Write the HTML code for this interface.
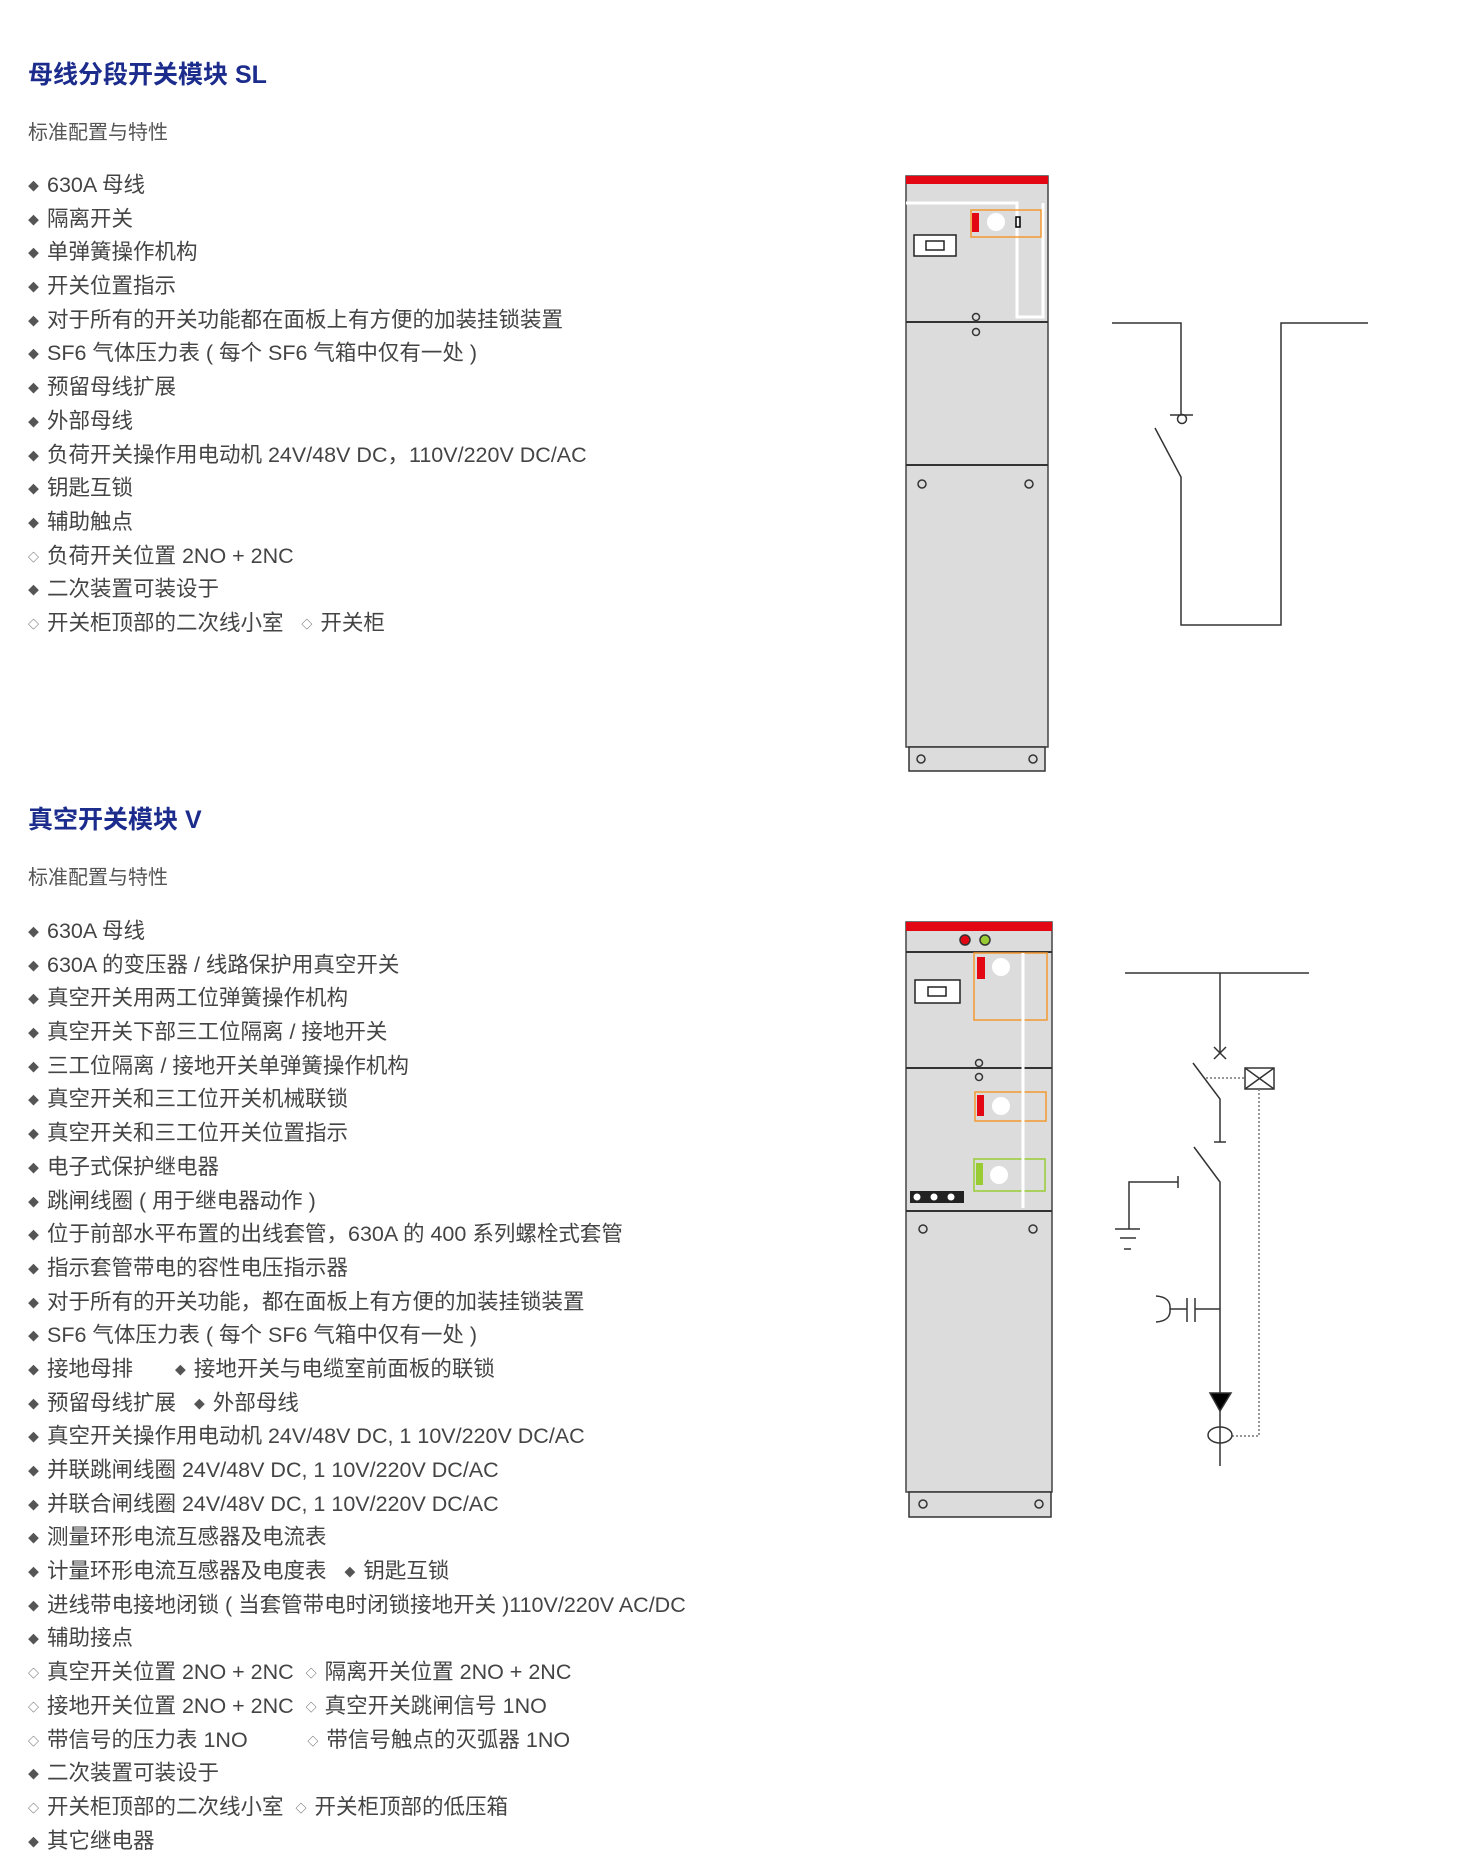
<!DOCTYPE html><html><head><meta charset="utf-8"><style>
body{margin:0;width:1464px;height:1834px;background:#fff;position:relative;font-family:"Liberation Sans","Noto Sans CJK SC",sans-serif;overflow:hidden}
.t{position:absolute;left:28px;font-size:25px;font-weight:bold;color:#1c2c8c}
.s{position:absolute;left:28px;font-size:20px;color:#555}
.l{position:absolute;left:28px;font-size:21.5px;color:#444;line-height:33.7px;margin:0;padding:0;list-style:none}
.l li{height:33.7px;white-space:pre}
.l b{display:inline-block;width:19px;font-size:11px;font-weight:normal;vertical-align:2px;color:#555}
svg{position:absolute;left:0;top:0}
</style></head><body>
<div class="t" style="top:55px">母线分段开关模块 SL</div>
<div class="s" style="top:116px">标准配置与特性</div>
<ul class="l" style="top:169px"><li><b>◆</b>630A 母线</li><li><b>◆</b>隔离开关</li><li><b>◆</b>单弹簧操作机构</li><li><b>◆</b>开关位置指示</li><li><b>◆</b>对于所有的开关功能都在面板上有方便的加装挂锁装置</li><li><b>◆</b>SF6 气体压力表 ( 每个 SF6 气箱中仅有一处 )</li><li><b>◆</b>预留母线扩展</li><li><b>◆</b>外部母线</li><li><b>◆</b>负荷开关操作用电动机 24V/48V DC，110V/220V DC/AC</li><li><b>◆</b>钥匙互锁</li><li><b>◆</b>辅助触点</li><li><b>◇</b>负荷开关位置 2NO + 2NC</li><li><b>◆</b>二次装置可装设于</li><li><b>◇</b>开关柜顶部的二次线小室   <b>◇</b>开关柜</li></ul>
<div class="t" style="top:800px">真空开关模块 V</div>
<div class="s" style="top:861px">标准配置与特性</div>
<ul class="l" style="top:915px"><li><b>◆</b>630A 母线</li><li><b>◆</b>630A 的变压器 / 线路保护用真空开关</li><li><b>◆</b>真空开关用两工位弹簧操作机构</li><li><b>◆</b>真空开关下部三工位隔离 / 接地开关</li><li><b>◆</b>三工位隔离 / 接地开关单弹簧操作机构</li><li><b>◆</b>真空开关和三工位开关机械联锁</li><li><b>◆</b>真空开关和三工位开关位置指示</li><li><b>◆</b>电子式保护继电器</li><li><b>◆</b>跳闸线圈 ( 用于继电器动作 )</li><li><b>◆</b>位于前部水平布置的出线套管，630A 的 400 系列螺栓式套管</li><li><b>◆</b>指示套管带电的容性电压指示器</li><li><b>◆</b>对于所有的开关功能，都在面板上有方便的加装挂锁装置</li><li><b>◆</b>SF6 气体压力表 ( 每个 SF6 气箱中仅有一处 )</li><li><b>◆</b>接地母排       <b>◆</b>接地开关与电缆室前面板的联锁</li><li><b>◆</b>预留母线扩展   <b>◆</b>外部母线</li><li><b>◆</b>真空开关操作用电动机 24V/48V DC, 1 10V/220V DC/AC</li><li><b>◆</b>并联跳闸线圈 24V/48V DC, 1 10V/220V DC/AC</li><li><b>◆</b>并联合闸线圈 24V/48V DC, 1 10V/220V DC/AC</li><li><b>◆</b>测量环形电流互感器及电流表</li><li><b>◆</b>计量环形电流互感器及电度表   <b>◆</b>钥匙互锁</li><li><b>◆</b>进线带电接地闭锁 ( 当套管带电时闭锁接地开关 )110V/220V AC/DC</li><li><b>◆</b>辅助接点</li><li><b>◇</b>真空开关位置 2NO + 2NC  <b>◇</b>隔离开关位置 2NO + 2NC</li><li><b>◇</b>接地开关位置 2NO + 2NC  <b>◇</b>真空开关跳闸信号 1NO</li><li><b>◇</b>带信号的压力表 1NO          <b>◇</b>带信号触点的灭弧器 1NO</li><li><b>◆</b>二次装置可装设于</li><li><b>◇</b>开关柜顶部的二次线小室  <b>◇</b>开关柜顶部的低压箱</li><li><b>◆</b>其它继电器</li></ul>
<svg width="1464" height="1834" fill="none" stroke="#333" stroke-width="1.5">
<g transform="translate(4,1)">
<rect x="902" y="175" width="142" height="571" fill="#dcdcdc" stroke="#444"/>
<rect x="902" y="175" width="142" height="8" fill="#e30613" stroke="none"/>
<line x1="902" y1="321" x2="1044" y2="321" stroke-width="2"/><line x1="902" y1="464" x2="1044" y2="464" stroke-width="2"/>
<rect x="905" y="746" width="136" height="24" fill="#dcdcdc"/>
<path d="M902 202H1013V316H1039V202" stroke="#fff" stroke-width="3"/>
<rect x="967" y="209" width="70" height="27" stroke="#f39a32"/>
<rect x="968" y="212" width="7" height="19" fill="#e30613" stroke="none"/>
<circle cx="992" cy="221" r="9" fill="#fff" stroke="none"/>
<rect x="1012" y="216" width="4" height="10" stroke="#000"/>
<rect x="910" y="234" width="42" height="21" fill="#fff" stroke="#222"/>
<rect x="922" y="240" width="18" height="9" stroke="#222"/>
<circle cx="972" cy="316" r="3.5"/><circle cx="972" cy="331" r="3.5"/>
<circle cx="918" cy="483" r="4"/><circle cx="1025" cy="483" r="4"/>
<circle cx="917" cy="758" r="4"/><circle cx="1029" cy="758" r="4"/>
</g>
<g transform="translate(5,0)">
<path d="M1107 323H1176V415M1165 415H1188M1150 428L1176 477V625H1276V323H1363"/>
<circle cx="1177" cy="419" r="4.5"/>
</g>
<g transform="translate(4,5)">
<rect x="902" y="917" width="146" height="570" fill="#dcdcdc" stroke="#444"/>
<rect x="902" y="917" width="146" height="9" fill="#e30613" stroke="none"/>
<line x1="902" y1="947" x2="1048" y2="947" stroke-width="2"/>
<line x1="902" y1="1063" x2="1048" y2="1063" stroke-width="2"/><line x1="902" y1="1206" x2="1048" y2="1206" stroke-width="2"/>
<rect x="905" y="1487" width="142" height="25" fill="#dcdcdc"/>
<circle cx="961" cy="935" r="5" fill="#e30613"/><circle cx="981" cy="935" r="5" fill="#9c3"/>
<rect x="970" y="948" width="73" height="67" stroke="#f39a32"/>
<rect x="973" y="952" width="8" height="22" fill="#e30613" stroke="none"/>
<rect x="971" y="1087" width="71" height="29" stroke="#f39a32"/>
<rect x="973" y="1090" width="7" height="21" fill="#e30613" stroke="none"/>
<rect x="970" y="1154" width="71" height="32" stroke="#9c3"/>
<rect x="972" y="1158" width="7" height="22" fill="#9c3" stroke="none"/>
<path d="M1019 948V1203" stroke="#fff" stroke-width="3"/>
<circle cx="997" cy="962" r="9" fill="#fff" stroke="none"/><circle cx="997" cy="1101" r="9" fill="#fff" stroke="none"/><circle cx="995" cy="1170" r="9" fill="#fff" stroke="none"/>
<rect x="911" y="975" width="45" height="23" fill="#fff" stroke="#222"/>
<rect x="924" y="982" width="18" height="9" stroke="#222"/>
<rect x="906" y="1186" width="54" height="12" fill="#222" stroke="none"/>
<circle cx="913" cy="1192" r="3.5" fill="#fff" stroke="none"/><circle cx="930" cy="1192" r="3.5" fill="#fff" stroke="none"/><circle cx="947" cy="1192" r="3.5" fill="#fff" stroke="none"/>
<circle cx="975" cy="1058" r="3.5"/><circle cx="975" cy="1072" r="3.5"/>
<circle cx="919" cy="1224" r="4"/><circle cx="1029" cy="1224" r="4"/>
<circle cx="919" cy="1499" r="4"/><circle cx="1035" cy="1499" r="4"/>
</g>
<g transform="translate(6,5)">
<path d="M1119 968H1303M1214 968V1048M1208 1042L1220 1054M1220 1042L1208 1054M1187 1058L1214 1094V1137M1208 1137H1220M1188 1142L1214 1177V1461M1123 1224V1177H1172M1172 1171V1183M1109 1224H1134M1114 1233H1130M1118 1244H1125M1189 1304H1214M1189 1293V1317M1181 1293V1317M1181 1304H1164M1150 1291Q1165 1292 1164 1304Q1165 1316 1150 1317"/>
<rect x="1239" y="1063" width="29" height="21"/><path d="M1239 1063L1268 1084M1268 1063L1239 1084"/>
<path d="M1200 1073H1239M1253 1084V1431H1226" stroke="#777" stroke-dasharray="2 2"/>
<path d="M1204 1388H1225L1214 1406Z" fill="#000"/>
<ellipse cx="1214" cy="1430" rx="12" ry="8"/>
</g>
</svg>
</body></html>
